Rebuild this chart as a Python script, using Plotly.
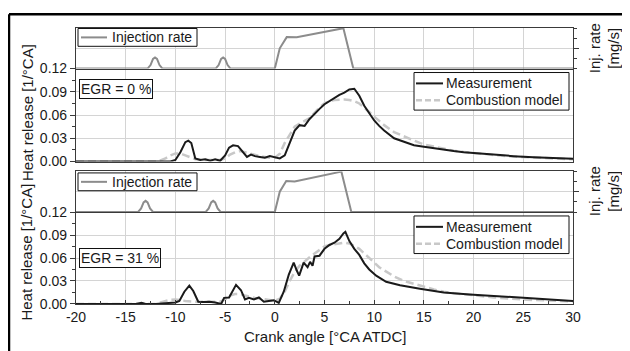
import plotly.graph_objects as go

# ---------------- data ----------------
x_ticks = [-20, -15, -10, -5, 0, 5, 10, 15, 20, 25, 30]
x_tick_text = ["-20", "-15", "-10", "-5", "0", "5", "10", "15", "20", "25", "30"]
hr_ticks = [0.0, 0.03, 0.06, 0.09, 0.12]
hr_tick_text = ["0.00", "0.03", "0.06", "0.09", "0.12"]

# EGR = 0 %
inj1_x = [-20, -12.8, -12.5, -12.25, -12.05, -11.85, -11.6, -11.3,
          -5.95, -5.65, -5.4, -5.2, -5.0, -4.75, -4.45, 0.0, 0.5, 1.2, 2.2, 6.9, 7.9, 30]
inj1_y = [0, 0, 0.35, 0.95, 1.1, 0.95, 0.35, 0,
          0, 0.35, 0.95, 1.1, 0.95, 0.35, 0, 0, 2.0, 3.1, 3.08, 3.98, 0, 0]

meas1_x = [-20, -12, -10.5, -10, -9.5, -9.0, -8.7, -8.4, -8.0, -7.5, -7.0, -6.5, -6.0, -5.5,
           -5.0, -4.6, -4.2, -3.7, -3.2, -2.8, -2.4, -2.0, -1.5, -1.0, -0.5, 0.0, 0.5, 1.0,
           1.5, 2.0, 2.5, 3.0, 3.5, 4.0, 4.5, 5.0, 5.5, 6.0, 6.5, 7.0, 7.5, 8.0, 8.5, 9.0,
           9.5, 10.0, 10.5, 11, 12, 13, 14, 15, 16, 17, 18, 19, 20, 22, 24, 26, 28, 30]
meas1_y = [0, 0, 0, 0.002, 0.012, 0.025, 0.027, 0.024, 0.004, 0.002, 0.003, 0.001, 0.003, 0.001,
           0.008, 0.018, 0.021, 0.020, 0.012, 0.006, 0.009, 0.007, 0.006, 0.005, 0.007, 0.005,
           0.004, 0.008, 0.025, 0.040, 0.047, 0.046, 0.055, 0.062, 0.068, 0.074, 0.078, 0.083,
           0.086, 0.089, 0.093, 0.094, 0.085, 0.072, 0.063, 0.053, 0.046, 0.040, 0.030, 0.025,
           0.021, 0.019, 0.017, 0.015, 0.0135, 0.012, 0.011, 0.0085, 0.007, 0.0055, 0.0045, 0.0035]

model1_x = [-20, -11.8, -11, -10.5, -10, -9.5, -9, -8.5, -8, -7, -6, -5.5, -5, -4.5, -4, -3.5,
            -3, -2.5, -2, -1.5, -1, -0.5, 0, 0.5, 1, 1.5, 2, 2.5, 3, 3.5, 4, 4.5, 5, 5.5, 6,
            6.5, 7, 7.5, 8, 8.5, 9, 9.5, 10, 10.5, 11, 12, 13, 14, 15, 16, 17, 18, 19, 20, 22,
            24, 26, 28, 30]
model1_y = [0, 0, 0.004, 0.008, 0.0105, 0.0105, 0.008, 0.005, 0.003, 0.002, 0.002, 0.002,
            0.004, 0.009, 0.012, 0.0135, 0.012, 0.010, 0.0085, 0.007, 0.006, 0.005, 0.005,
            0.010, 0.024, 0.035, 0.045, 0.049, 0.052, 0.056, 0.063, 0.070, 0.075, 0.078, 0.0795,
            0.080, 0.080, 0.0795, 0.078, 0.075, 0.070, 0.064, 0.058, 0.052, 0.047, 0.038, 0.032,
            0.027, 0.022, 0.019, 0.016, 0.014, 0.0125, 0.011, 0.0085, 0.0065, 0.005, 0.004, 0.003]

# EGR = 31 %
inj2_x = [-20, -13.75, -13.45, -13.2, -13.0, -12.8, -12.55, -12.25,
          -6.95, -6.65, -6.4, -6.2, -6.0, -5.75, -5.45, 0.0, 0.5, 1.15, 2.0, 6.7, 7.7, 30]
inj2_y = [0, 0, 0.35, 0.95, 1.1, 0.95, 0.35, 0,
          0, 0.35, 0.95, 1.1, 0.95, 0.35, 0, 0, 2.0, 3.05, 3.0, 3.98, 0, 0]

meas2_x = [-20, -14, -13.4, -13, -12, -11, -10.5, -10, -9.6, -9.1, -8.6, -8.2, -7.7, -7.2,
           -6.6, -6.0, -5.4, -5.1, -4.6, -4.2, -3.9, -3.4, -3.0, -2.6, -2.1, -1.6, -1.1, -0.6,
           -0.1, 0.4, 0.9, 1.4, 1.9, 2.2, 2.45, 2.9, 3.3, 3.55, 3.8, 4.0, 4.5, 5.0, 5.5, 6.0,
           6.5, 6.9, 7.1, 7.5, 8.0, 8.5, 9.0, 9.5, 10.2, 11.2, 12.6, 14.6, 17, 19.6, 22, 25.3,
           28, 30]
meas2_y = [0, 0, 0.0015, 0, 0, 0.001, 0.002, 0.002, 0.004, 0.016, 0.024, 0.017, 0.003, 0.0025,
           0.003, 0.002, 0.0, 0.008, 0.0085, 0.018, 0.025, 0.018, 0.006, 0.008, 0.006, 0.0085,
           0.003, 0.004, 0.005, 0.0015, 0.016, 0.038, 0.054, 0.044, 0.037, 0.054, 0.048, 0.055,
           0.050, 0.062, 0.063, 0.072, 0.077, 0.080, 0.085, 0.092, 0.094, 0.082, 0.072, 0.064,
           0.053, 0.045, 0.037, 0.029, 0.0245, 0.020, 0.015, 0.0125, 0.0103, 0.0073, 0.0055, 0.0039]

model2_x = [-20, -12, -11.5, -11, -10.5, -10, -9.5, -9, -8, -7, -6, -5.5, -5, -4.5, -4, -3.5,
            -3, -2.5, -2, -1.5, -1, -0.5, 0, 0.5, 1, 1.5, 2, 2.5, 3, 3.5, 4, 4.5, 5, 5.5, 6,
            6.5, 7, 7.5, 8, 8.5, 9, 9.5, 10, 10.5, 11, 12, 13, 14, 15, 16, 17, 18, 19.6, 22,
            25.3, 28, 30]
model2_y = [0, 0, 0.002, 0.004, 0.0055, 0.006, 0.005, 0.004, 0.003, 0.003, 0.003, 0.003,
            0.006, 0.011, 0.013, 0.013, 0.011, 0.009, 0.008, 0.007, 0.006, 0.005, 0.004, 0.007,
            0.016, 0.030, 0.042, 0.050, 0.056, 0.061, 0.066, 0.071, 0.075, 0.077, 0.078, 0.079,
            0.080, 0.079, 0.076, 0.072, 0.066, 0.060, 0.053, 0.048, 0.044, 0.036, 0.030, 0.026,
            0.022, 0.019, 0.016, 0.014, 0.012, 0.0086, 0.0056, 0.0042, 0.0034]

# ---------------- style ----------------
FONT = "Liberation Sans, Arial, sans-serif"
TXT = "#1a1a1a"
GRID = "#d4d4d4"
LINE = "#3a3a3a"
INJ_COL = "#8c8c8c"
MEAS_COL = "#1a1a1a"
MODEL_COL = "#c8c8c8"
MODEL_DASH = "8px,4px"

# plot area in page pixels (the page puts the figure 8 px from the corner)
PX0, PX1, PY0, PY1 = 76, 573, 25, 304


def px(x):
    return (x - PX0) / (PX1 - PX0)


def py(y):
    return (PY1 - y) / (PY1 - PY0)


fig = go.Figure()

fig.add_trace(go.Scatter(x=inj1_x, y=inj1_y, mode="lines", name="Injection rate",
                         line=dict(color=INJ_COL, width=2), xaxis="x4", yaxis="y4",
                         showlegend=False))
fig.add_trace(go.Scatter(x=model1_x, y=model1_y, mode="lines", name="Combustion model",
                         line=dict(color=MODEL_COL, width=2.5, dash=MODEL_DASH),
                         xaxis="x3", yaxis="y3", showlegend=False))
fig.add_trace(go.Scatter(x=meas1_x, y=meas1_y, mode="lines", name="Measurement",
                         line=dict(color=MEAS_COL, width=2), xaxis="x3", yaxis="y3",
                         showlegend=False))
fig.add_trace(go.Scatter(x=inj2_x, y=inj2_y, mode="lines", name="Injection rate",
                         line=dict(color=INJ_COL, width=2), xaxis="x2", yaxis="y2",
                         showlegend=False))
fig.add_trace(go.Scatter(x=model2_x, y=model2_y, mode="lines", name="Combustion model",
                         line=dict(color=MODEL_COL, width=2.5, dash=MODEL_DASH),
                         xaxis="x", yaxis="y", showlegend=False))
fig.add_trace(go.Scatter(x=meas2_x, y=meas2_y, mode="lines", name="Measurement",
                         line=dict(color=MEAS_COL, width=2), xaxis="x", yaxis="y",
                         showlegend=False))


def xax(anchor, labels, layer="above traces", mirror=False):
    return dict(anchor=anchor, domain=[0, 1], range=[-20, 30], showgrid=True,
                gridcolor=GRID, gridwidth=1, zeroline=False, showline=True,
                linecolor=LINE, linewidth=1.2, mirror=mirror,
                tickvals=x_ticks, ticktext=x_tick_text, showticklabels=labels,
                ticks="inside" if labels else "", ticklen=4, tickcolor=LINE,
                minor=dict(dtick=2.5, tick0=-20, ticks="inside" if labels else "",
                           ticklen=3, tickcolor=LINE, showgrid=False),
                tickfont=dict(family=FONT, size=14, color=TXT), layer=layer)


def hr_y(anchor, dom):
    return dict(anchor=anchor, domain=dom, range=[0, 0.12], showgrid=True, gridcolor=GRID,
                zeroline=False, showline=True, linecolor=LINE, linewidth=1.2, mirror=True,
                tickvals=hr_ticks, ticktext=hr_tick_text, ticks="outside", ticklen=5,
                tickcolor=LINE,
                minor=dict(dtick=0.015, tick0=0, ticks="outside", ticklen=3,
                           tickcolor=LINE, showgrid=False),
                tickfont=dict(family=FONT, size=14, color=TXT))


def inj_y(anchor, dom):
    return dict(anchor=anchor, domain=dom, range=[0, 4], side="right", showgrid=True,
                gridcolor=GRID, zeroline=False, showline=True, linecolor=LINE, linewidth=1.2,
                mirror=True, tickvals=[2], showticklabels=False, ticks="outside", ticklen=5,
                tickcolor=LINE,
                minor=dict(dtick=1, tick0=0, ticks="outside", ticklen=3, tickcolor=LINE,
                           showgrid=False))


fig.update_layout(
    width=622, height=343,
    margin=dict(l=68, r=57, t=17, b=47),
    paper_bgcolor="white", plot_bgcolor="white",
    font=dict(family=FONT, size=14, color=TXT),
    xaxis=xax("y", True),
    yaxis=hr_y("x", [0, 0.3333]),
    xaxis2=xax("y2", False, layer="below traces", mirror=True),
    yaxis2=inj_y("x2", [0.3333, 0.4803]),
    xaxis3=xax("y3", False),
    yaxis3=hr_y("x3", [0.5161, 0.853]),
    xaxis4=xax("y4", False, layer="below traces", mirror=True),
    yaxis4=inj_y("x4", [0.853, 1.0]),
    showlegend=False,
)

ann_font = dict(family=FONT, size=14, color=TXT)
title_font = dict(family=FONT, size=15, color=TXT)


def legend_box(x0, x1, y0, y1):
    fig.add_shape(type="rect", xref="paper", yref="paper", x0=px(x0), x1=px(x1),
                  y0=py(y0), y1=py(y1), fillcolor="white",
                  line=dict(color="#111", width=1), layer="above")


def legend_item(y, color, width, dash, text, lx0, lx1, tx):
    fig.add_shape(type="line", xref="paper", yref="paper", x0=px(lx0), x1=px(lx1),
                  y0=py(y), y1=py(y), line=dict(color=color, width=width, dash=dash),
                  layer="above")
    fig.add_annotation(text=text, xref="paper", yref="paper", x=px(tx), y=py(y),
                       xanchor="left", yanchor="middle", showarrow=False, font=ann_font)


# injection-rate legends
for off in [0, 146]:
    legend_box(78, 197, 25.5 + off, 43.5 + off)
    legend_item(34.5 + off, INJ_COL, 2, "solid", "Injection rate", 81, 107, 110)

# measurement / model legends
for off in [0, 145]:
    legend_box(414, 569, 70 + off, 108 + off)
    legend_item(81 + off, MEAS_COL, 2, "solid", "Measurement", 416, 443, 444)
    legend_item(98 + off, MODEL_COL, 2.5, "6px,3px", "Combustion model", 416, 443, 444)

fig.add_annotation(text="EGR = 0 %", xref="paper", yref="paper", x=px(79), y=py(77),
                   xanchor="left", yanchor="top", showarrow=False, font=ann_font,
                   bgcolor="white", bordercolor="#111", borderwidth=1, borderpad=1)
fig.add_annotation(text="EGR = 31 %", xref="paper", yref="paper", x=px(79), y=py(247),
                   xanchor="left", yanchor="top", showarrow=False, font=ann_font,
                   bgcolor="white", bordercolor="#111", borderwidth=1, borderpad=1)
for yc in [111, 252]:
    fig.add_annotation(text="Heat release [1/°CA]", xref="paper", yref="paper",
                       x=px(27), y=py(yc), xanchor="center", yanchor="middle",
                       textangle=-90, showarrow=False, font=title_font)
for yc in [45.5, 190]:
    fig.add_annotation(text="Inj. rate<br>[mg/s]", xref="paper", yref="paper",
                       x=px(604), y=py(yc), xanchor="center", yanchor="middle",
                       textangle=-90, showarrow=False, font=title_font)
fig.add_annotation(text="Crank angle [°CA ATDC]", xref="paper", yref="paper",
                   x=0.5, y=py(337), xanchor="center", yanchor="middle",
                   showarrow=False, font=title_font)

# outer frame (top and left edges visible in the reference)
fig.add_shape(type="line", xref="paper", yref="paper", x0=px(9), x1=px(700), y0=py(11),
              y1=py(11), line=dict(color="black", width=2.5))
fig.add_shape(type="line", xref="paper", yref="paper", x0=px(9), x1=px(9), y0=py(11),
              y1=py(400), line=dict(color="black", width=2.5))

fig.write_html("out.html")
